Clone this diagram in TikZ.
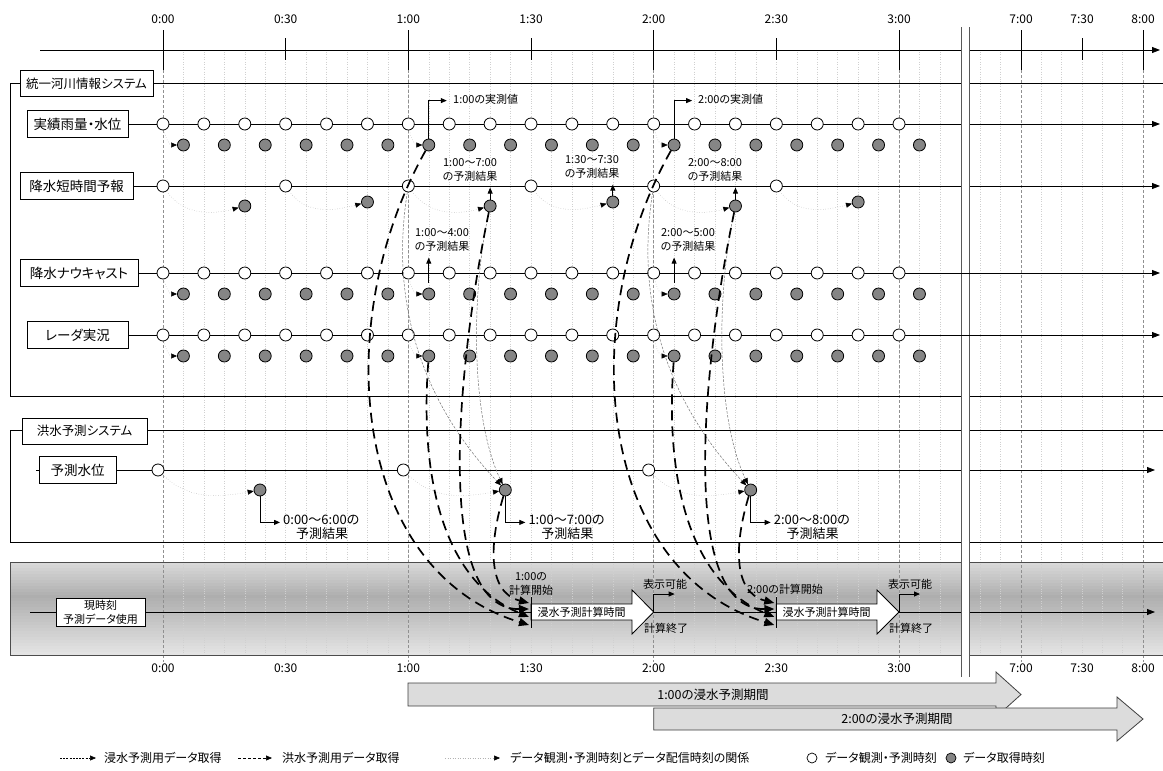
\documentclass[tikz,border=0pt]{standalone}
\usepackage{fontspec}
\setmainfont{Noto Sans CJK JP}[RawFeature={+palt}]
\usetikzlibrary{arrows.meta,calc}
\definecolor{gfill}{HTML}{858585}
\definecolor{perfill}{HTML}{DCDCDC}
\definecolor{gridc}{HTML}{D0D0D0}
\definecolor{gridd}{HTML}{909090}
\definecolor{bandA}{HTML}{D9D9D9}
\definecolor{bandB}{HTML}{AEAEAE}
\definecolor{bandC}{HTML}{E6E6E6}
\begin{document}
\begin{tikzpicture}[x=1pt,y=-1pt,
  rowlbl/.style={draw, fill=white, line width=0.8pt, inner sep=0pt, minimum height=27pt, font=\fontsize{13.5}{16}\selectfont},
  syslbl/.style={draw, fill=white, line width=0.8pt, inner sep=0pt, minimum height=26pt, font=\fontsize{12.5}{15}\selectfont},
  opn/.style={circle, draw, fill=white, line width=0.8pt, minimum size=12pt, inner sep=0pt},
  gry/.style={circle, draw, fill=gfill, line width=0.8pt, minimum size=12pt, inner sep=0pt},
  axl/.style={line width=0.8pt, -{Triangle[length=8pt,width=6pt]}},
  fr/.style={line width=0.8pt},
  up/.style={line width=0.8pt, -{Triangle[length=6pt,width=5pt]}},
  rel/.style={line width=0.45pt, draw=black!35, dotted, -{Triangle[length=6pt,width=5pt,color=black]}},
  big/.style={line width=1.7pt, dash pattern=on 10pt off 6pt, -{Triangle[length=10pt,width=8pt]}},
  thn/.style={line width=0.5pt, draw=black!55, dash pattern=on 2.5pt off 1.5pt, -{Triangle[length=6pt,width=5pt,color=black]}},
  gridf/.style={draw=gridc, dotted, line width=0.45pt},
  gridh/.style={draw=gridd, dash pattern=on 3pt off 2pt, line width=0.5pt},
  tlab/.style={font=\fontsize{12}{14}\selectfont, inner sep=0pt},
  sml/.style={font=\fontsize{11}{14}\selectfont, align=center, inner sep=0pt},
  mid/.style={font=\fontsize{13}{16}\selectfont, inner sep=0pt},
  bnd/.style={font=\fontsize{11}{14}\selectfont, align=center, inner sep=0pt},
  per/.style={fill=perfill, draw=black!75, line width=0.8pt},
  lg/.style={font=\fontsize{12}{15}\selectfont, anchor=west, inner sep=0pt},
]
\useasboundingbox (0,0) rectangle (1163,771);
\fill[white] (0,0) rectangle (1163,771);

% band background (stepped gradient)
\foreach \i in {0,...,30} {
  \pgfmathsetmacro\yy{562+3*\i}
  \ifdim\yy pt<595pt
    \pgfmathtruncatemacro\pc{100*(\yy-562)/33}
    \fill[bandB!\pc!bandA] (10,\yy) rectangle (1163,{\yy+3.3});
  \else
    \pgfmathtruncatemacro\pc{100*(\yy-595)/60}
    \fill[bandC!\pc!bandB] (10,\yy) rectangle (1163,{\yy+3.3});
  \fi
}

% grid
\foreach \k in {1,...,38} {\draw[gridf] ({163+20.444*\k},52) -- ({163+20.444*\k},655);}
\foreach \xx in {980.3,1000.7,1041.3,1061.7,1082,1102.3,1122.7} {\draw[gridf] (\xx,52) -- (\xx,655);}
\foreach \xx in {163,408.33,653.67,899,1021,1143} {\draw[gridh] (\xx,70) -- (\xx,662);}

% band border
\draw[fr, draw=black!70] (1163,562) -- (10,562) -- (10,655) -- (1163,655);

% top axis
\draw[axl] (40,50) -- (1160,50);
\foreach \xx in {163,408.33,653.67,899,1021,1143} {\draw[fr] (\xx,30) -- (\xx,70);}
\foreach \xx in {285.67,531,776.33,1082} {\draw[fr] (\xx,38) -- (\xx,60);}
\foreach \xx/\lab [count=\i] in {163/0:00,285.67/0:30,408.33/1:00,531/1:30,653.67/2:00,776.33/2:30,899/3:00,1021/7:00,1082/7:30,1143/8:00} {
  \node[tlab] (tt\i) at (\xx,19) {\lab};
  \node[tlab] (tb\i) at (\xx,668) {\lab};
}

% system frames
\draw[fr] (1163,83) -- (10,83) -- (10,396) -- (1163,396);
\node[syslbl, minimum width=133pt] (sys1) at (86.5,83.5) {統一河川情報システム};
\draw[fr] (1163,430) -- (10,430) -- (10,542) -- (1163,542);
\node[syslbl, minimum width=125pt] (sys2) at (84.5,431) {洪水予測システム};

% row labels and lines
\node[rowlbl, minimum width=101pt] (L1) at (77.5,124) {実績雨量・水位};
\node[rowlbl, minimum width=113pt] (L2) at (76.5,186) {降水短時間予報};
\node[rowlbl, minimum width=118pt] (L3) at (79,273) {降水ナウキャスト};
\node[rowlbl, minimum width=101pt] (L4) at (77.5,335) {レーダ実況};
\node[rowlbl, minimum width=77pt] (L5) at (77.5,470) {予測水位};
\node[bnd, draw, fill=white, line width=0.8pt, minimum width=89pt, minimum height=28pt] (B0) at (100.5,612) {現時刻\\予測データ使用};
\coordinate (E1) at (1160,124);
\coordinate (E2) at (1160,186);
\coordinate (E3) at (1160,273);
\coordinate (E4) at (1160,335);
\coordinate (E5) at (1155,470);
\coordinate (E6) at (1155,612);
\coordinate (S5) at (36,470);
\coordinate (S6) at (30,612);
\draw[axl] (L1.east) -- (E1);
\draw[axl] (L2.east) -- (E2);
\draw[axl] (L3.east) -- (E3);
\draw[axl] (L4.east) -- (E4);
\draw[fr] (S5) -- (L5.west);
\draw[axl] (L5.east) -- (E5);
\draw[fr] (S6) -- (B0.west);
\draw[axl] (B0.east) -- (E6);

% circles: 10-minute rows
\foreach \r/\y in {a/124, n/273, d/335} {
  \foreach \k in {0,...,18} {
    \node[opn] (\r o\k) at ({163+40.889*\k},\y) {};
    \node[gry] (\r g\k) at ({183.44+40.889*\k},{\y+21}) {};
  }
  \foreach \k in {0,6,12} {\draw[rel] (\r o\k) to[out=-80,in=180] (\r g\k);}
}
% short-term forecast row
\foreach \k/\yy in {0/206,1/202,2/206,3/202,4/206,5/202} {
  \node[opn] (so\k) at ({163+122.67*\k},186) {};
  \node[gry] (sg\k) at ({244.8+122.67*\k},\yy) {};
  \draw[rel] (so\k) to[out=-55,in=195] (sg\k);
}
% forecast water level row
\foreach \k in {0,1,2} {
  \node[opn] (fo\k) at ({158+245.33*\k},470) {};
  \node[gry] (fg\k) at ({260+245.33*\k},490) {};
  \draw[rel] (fo\k) to[out=-45,in=190] (fg\k);
}

% up arrows and labels
\draw[up] (sg2.north) -- ++(0,-12);
\draw[up] (sg3.north) -- ++(0,-11);
\draw[up] (sg4.north) -- ++(0,-12);
\node[sml] (q1) at (470,170) {1:00〜7:00\\の予測結果};
\node[sml] (q2) at (592,167) {1:30〜7:30\\の予測結果};
\node[sml] (q3) at (715,170) {2:00〜8:00\\の予測結果};
\draw[up] ($(ng6.north)+(0,-5)$) -- ($(ng6.north)+(0,-30)$);
\draw[up] ($(ng12.north)+(0,-5)$) -- ($(ng12.north)+(0,-30)$);
\node[sml] (q4) at (442,240) {1:00〜4:00\\の予測結果};
\node[sml] (q5) at (688,240) {2:00〜5:00\\の予測結果};
\draw[up] (ag6.north) -- ++(0,-38) -- ++(18,0);
\draw[up] (ag12.north) -- ++(0,-38) -- ++(18,0);
\node[sml, anchor=west] (m1) at (453,99) {1:00の実測値};
\node[sml, anchor=west] (m2) at (698,99) {2:00の実測値};

% forecast results of flood system
\foreach \k/\pa/\pb in {0/0:00/6:00, 1/1:00/7:00, 2/2:00/8:00} {
  \draw[up] (fg\k.south) -- ++(0,26) -- ++(20,0);
  \node[mid, anchor=west] (fr\k) at ($(fg\k)+(23,30)$) {{\pa}〜{\pb}の};
  \node[mid] (fs\k) at ($(fg\k)+(62,44)$) {予測結果};
}

% compute arrows in band
\foreach \g/\xs/\xe/\xh in {1/531/653.67/632, 2/776.33/899/877} {
  \draw[fill=white, line width=0.8pt] (\xs,604) -- (\xh,604) -- (\xh,590) -- (\xe,612) -- (\xh,634) -- (\xh,620) -- (\xs,620) -- cycle;
  \node[bnd] (ct\g) at ({(\xs+\xh)/2},612) {浸水予測計算時間};
  \draw[line width=1pt] (\xs,597) -- (\xs,628);
  \coordinate (dp\g) at ({\xe+21},594);
  \draw[up] (\xe,612) -- (\xe,594) -- (dp\g);
}
\node[bnd] (cs1) at (531,584) {1:00の\\計算開始};
\node[bnd] (cs2) at (785,589) {2:00の計算開始};
\node[bnd] (hy1) at (665,584) {表示可能};
\node[bnd] (ke1) at (666,628) {計算終了};
\node[bnd] (hy2) at (910,584) {表示可能};
\node[bnd] (ke2) at (911,628) {計算終了};

% data acquisition curves
\foreach \sh/\ka/\ks/\kf/\g in {0/6/2/1/1, 245.33/12/4/2/2} {
  \coordinate (eD\g) at ({529+\sh},603);
  \coordinate (eC\g) at ({529+\sh},609);
  \coordinate (eB\g) at ({529+\sh},617);
  \coordinate (eA\g) at ({529+\sh},625);
  \draw[thn] (so\ks) .. controls ({390+\sh},300) and ({420+\sh},400) .. (fg\kf);
  \draw[thn] (sg\ks) .. controls ({470+\sh},300) and ({472+\sh},420) .. (fg\kf);
  \draw[big] (ag\ka) .. controls ({330+\sh},320) and ({350+\sh},570) .. (eA\g);
  \draw[big] (dg\ka) .. controls ({420+\sh},470) and ({440+\sh},580) .. (eB\g);
  \draw[big] (sg\ks) .. controls ({460+\sh},350) and ({430+\sh},610) .. (eC\g);
  \draw[big] (fg\kf) .. controls ({490+\sh},540) and ({486+\sh},592) .. (eD\g);
}

% time break
\fill[white] (961,25) rectangle (969,680);
\draw[line width=1pt, black!65] (961,27) -- (961,677);
\draw[line width=1pt, black!65] (969,27) -- (969,677);
\draw[fr] (960,273) -- (970,273);
\draw[fr] (960,335) -- (970,335);

% forecast periods
\draw[per] (408,683) -- (996,683) -- (996,672) -- (1021,694.5) -- (996,717) -- (996,706) -- (408,706) -- cycle;
\node[font=\fontsize{12.5}{15}\selectfont, inner sep=0pt] (pp1) at (713,694.5) {1:00の浸水予測期間};
\draw[per] (653.67,708) -- (1117,708) -- (1117,697) -- (1143,719) -- (1117,741) -- (1117,730) -- (653.67,730) -- cycle;
\node[font=\fontsize{12.5}{15}\selectfont, inner sep=0pt] (pp2) at (897,719) {2:00の浸水予測期間};

% legend
\coordinate (la1) at (60,758); \coordinate (lb1) at (96,758);
\coordinate (la2) at (238,758); \coordinate (lb2) at (272,758);
\coordinate (la3) at (445,758); \coordinate (lb3) at (500,758);
\draw[line width=0.6pt, dash pattern=on 2pt off 1.2pt, -{Triangle[length=6pt,width=5pt]}] (la1) -- (lb1);
\node[lg] (lt1) at (104,758) {浸水予測用データ取得};
\draw[line width=0.6pt, dash pattern=on 3pt off 2pt, -{Triangle[length=6pt,width=5pt]}] (la2) -- (lb2);
\node[lg] (lt2) at (282,758) {洪水予測用データ取得};
\draw[line width=0.5pt, draw=black!30, dotted, -{Triangle[length=6pt,width=5pt,color=black]}] (la3) -- (lb3);
\node[lg] (lt3) at (510,758) {データ観測・予測時刻とデータ配信時刻の関係};
\node[circle, draw, fill=white, line width=0.7pt, minimum size=10pt, inner sep=0pt] (lc1) at (812,758) {};
\node[lg] (lt4) at (825,758) {データ観測・予測時刻};
\node[circle, draw, fill=gfill, line width=0.7pt, minimum size=10pt, inner sep=0pt] (lc2) at (951,758) {};
\node[lg] (lt5) at (963,758) {データ取得時刻};
\end{tikzpicture}
\end{document}
